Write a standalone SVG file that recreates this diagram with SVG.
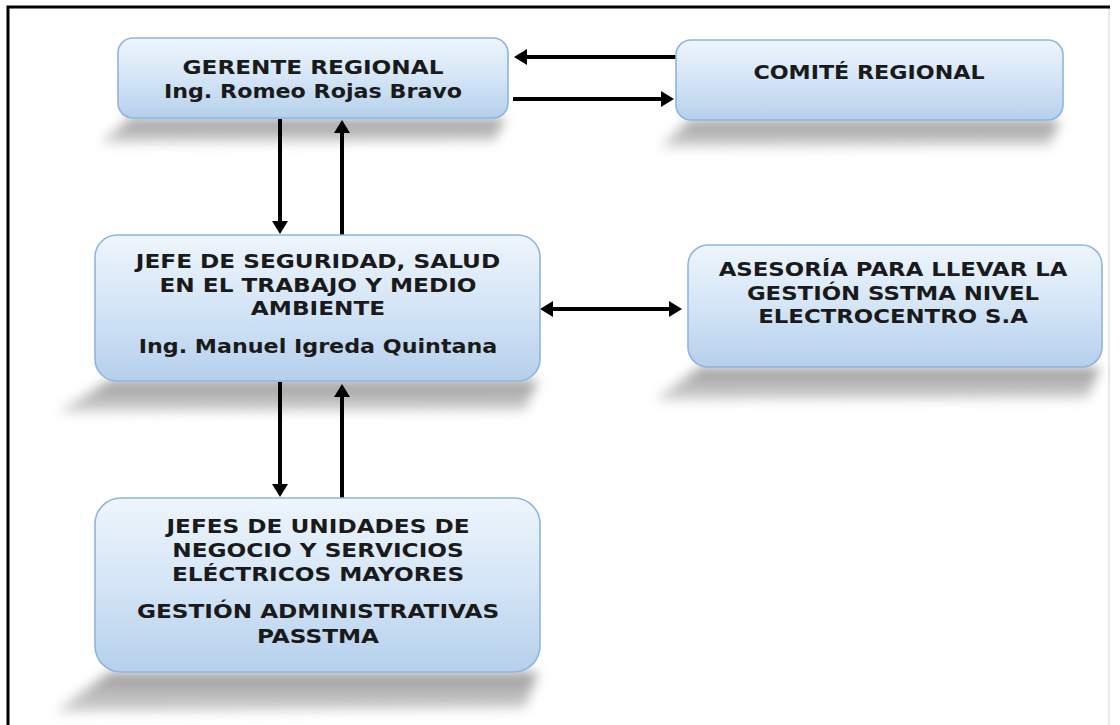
<svg xmlns="http://www.w3.org/2000/svg" width="1120" height="725" viewBox="0 0 1120 725">
  <style>
    .box { fill: url(#boxgrad); stroke: #8fb4e0; stroke-width: 1.6; }
    .shadow { fill: url(#shgrad); filter: url(#blur); }
    .t { font-family: "DejaVu Sans", Verdana, sans-serif; font-weight: bold; font-size: 19.5px; fill: #1a1a1a; text-anchor: middle; }
    .conn { stroke: #000; stroke-width: 4; fill: none; }
  </style>
  <defs>
    <linearGradient id="boxgrad" x1="0" y1="0" x2="0" y2="1">
      <stop offset="0" stop-color="#eef5fc"/>
      <stop offset="0.5" stop-color="#d4e5f6"/>
      <stop offset="1" stop-color="#b5d0ec"/>
    </linearGradient>
    <linearGradient id="shgrad" x1="0" y1="0" x2="0" y2="1">
      <stop offset="0" stop-color="#9a9a9a"/>
      <stop offset="1" stop-color="#d4d4d4"/>
    </linearGradient>
    <filter id="blur" x="-20%" y="-60%" width="140%" height="220%">
      <feGaussianBlur stdDeviation="6"/>
    </filter>
    <marker id="ah" viewBox="0 0 13 16" refX="1" refY="8" markerWidth="13" markerHeight="16" markerUnits="userSpaceOnUse" orient="auto-start-reverse">
      <path d="M0,0 L13,8 L0,16 z" fill="#000"/>
    </marker>
  </defs>

  <rect width="1120" height="725" fill="#fff"/>
  <!-- frame -->
  <line x1="1109" y1="7" x2="1109" y2="725" stroke="#e2e2e2" stroke-width="1.5"/>
  <path d="M8,725 L8,7 L1110,7" fill="none" stroke="#000" stroke-width="3"/>

  <!-- shadows -->
  <g id="shadows">
    <path class="shadow" d="M130,118 L505,118 L495,141 L100,143 Z"/>
    <path class="shadow" d="M690,120 L1060,120 L1050,145 L660,147 Z"/>
    <path class="shadow" d="M110,380 L538,380 L525,410 L58,412 Z"/>
    <path class="shadow" d="M700,367 L1100,367 L1088,398 L655,400 Z"/>
    <path class="shadow" d="M110,672 L538,672 L525,708 L55,712 Z"/>
  </g>

  <g id="connectors">
    <line class="conn" x1="676" y1="57" x2="526" y2="57" marker-end="url(#ah)"/>
    <line class="conn" x1="513" y1="99" x2="662" y2="99" marker-end="url(#ah)"/>
    <line class="conn" x1="280" y1="119" x2="280" y2="222" marker-end="url(#ah)"/>
    <line class="conn" x1="342" y1="235" x2="342" y2="132" marker-end="url(#ah)"/>
    <line class="conn" x1="552" y1="309" x2="670" y2="309" marker-start="url(#ah)" marker-end="url(#ah)"/>
    <line class="conn" x1="280" y1="382" x2="280" y2="485" marker-end="url(#ah)"/>
    <line class="conn" x1="342" y1="498" x2="342" y2="396" marker-end="url(#ah)"/>
  </g>

  <g id="gerente">
    <rect class="box" x="118" y="38" width="390" height="80" rx="15"/>
    <text class="t" transform="translate(313 74) scale(1.19 1)">GERENTE REGIONAL</text>
    <text class="t" transform="translate(313 98) scale(1.14 1)">Ing. Romeo Rojas Bravo</text>
  </g>

  <g id="comite">
    <rect class="box" x="676" y="40" width="387" height="80" rx="15"/>
    <text class="t" transform="translate(869 79) scale(1.14 1)">COMITÉ REGIONAL</text>
  </g>

  <g id="jefe-seguridad">
    <rect class="box" x="95" y="235" width="445" height="146" rx="22"/>
    <text class="t" transform="translate(318 268) scale(1.19 1)">JEFE DE SEGURIDAD, SALUD</text>
    <text class="t" transform="translate(318 292) scale(1.19 1)">EN EL TRABAJO Y MEDIO</text>
    <text class="t" transform="translate(318 315) scale(1.19 1)">AMBIENTE</text>
    <text class="t" transform="translate(318 353) scale(1.14 1)">Ing. Manuel Igreda Quintana</text>
  </g>

  <g id="asesoria">
    <rect class="box" x="688" y="245" width="414" height="122" rx="20"/>
    <text class="t" transform="translate(893 276) scale(1.17 1)">ASESORÍA PARA LLEVAR LA</text>
    <text class="t" transform="translate(893 300) scale(1.17 1)">GESTIÓN SSTMA NIVEL</text>
    <text class="t" transform="translate(893 323) scale(1.17 1)">ELECTROCENTRO  S.A</text>
  </g>

  <g id="jefes-unidades">
    <rect class="box" x="95" y="498" width="445" height="174" rx="26"/>
    <text class="t" transform="translate(318 533) scale(1.19 1)">JEFES DE UNIDADES DE</text>
    <text class="t" transform="translate(318 557) scale(1.19 1)">NEGOCIO Y SERVICIOS</text>
    <text class="t" transform="translate(318 581) scale(1.19 1)">ELÉCTRICOS MAYORES</text>
    <text class="t" transform="translate(318 618) scale(1.19 1)">GESTIÓN ADMINISTRATIVAS</text>
    <text class="t" transform="translate(318 643) scale(1.19 1)">PASSTMA</text>
  </g>
</svg>
